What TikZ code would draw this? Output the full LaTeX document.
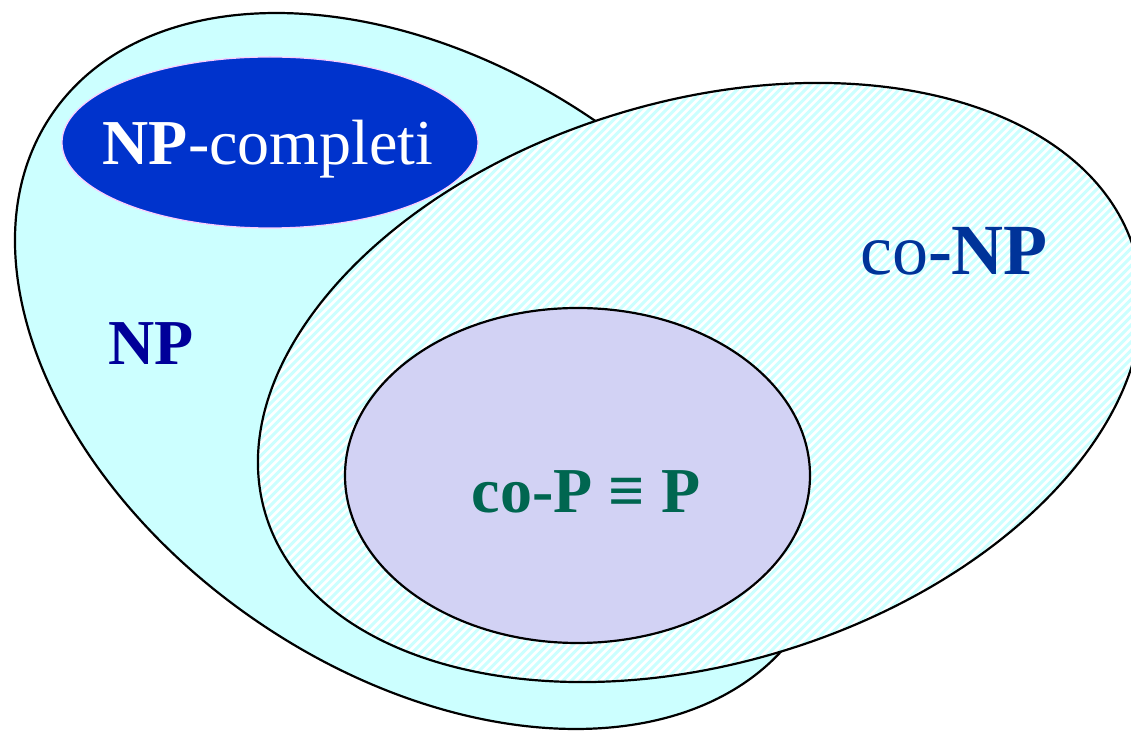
\documentclass[tikz,border=0pt]{standalone}
\usepackage{fontspec}
\setmainfont{Liberation Serif}
\definecolor{npcyan}{HTML}{CCFFFF}
\definecolor{pfill}{HTML}{D2D2F4}
\definecolor{npcblue}{HTML}{0033CC}
\definecolor{npcborder}{HTML}{FFCCFF}
\definecolor{nptext}{HTML}{000099}
\definecolor{conptext}{HTML}{003399}
\definecolor{ptext}{HTML}{006650}
\begin{document}
\begin{tikzpicture}[x=0.5pt,y=-0.5pt,
  setline/.style={draw=black, line width=1.1pt},
  lbl/.style={anchor=base, inner sep=0pt, outer sep=0pt}]
\useasboundingbox (0,0) rectangle (1131,731);
\clip (0,0) rectangle (1131,731);
% NP
\path[setline, fill=npcyan, shift={(426,371)}, rotate=-34.6] (0,0) ellipse [x radius=453.7, y radius=302];
% NP-completi
\path[draw=npcborder, line width=0.6pt, fill=npcblue] (270,142.5) ellipse [x radius=208, y radius=85.5];
% co-NP (hatched)
\begin{scope}
  \clip[shift={(700,382.5)}, rotate=16.9] (0,0) ellipse [x radius=454, y radius=281];
  \fill[white] (0,0) rectangle (1131,731);
  \foreach \c in {300,308.5,...,1900} \draw[npcyan, line width=1.5pt] (\c-800,800) -- (\c,0);
\end{scope}
\path[setline, shift={(700,382.5)}, rotate=16.9] (0,0) ellipse [x radius=454, y radius=281];
% P
\path[setline, fill=pfill] (577.5,475.5) ellipse [x radius=232.5, y radius=167.5];
% labels
\node[lbl, text=white, font=\fontsize{32}{38}\selectfont] (npc) at (268,165) {\textbf{NP}-completi};
\node[lbl, text=nptext, font=\fontsize{32}{38}\selectfont\bfseries] (np) at (151,365) {NP};
\node[lbl, text=conptext, font=\fontsize{36}{43}\selectfont] (conp) at (954,275) {co\textbf{-NP}};
\node[lbl, text=ptext, font=\fontsize{32}{38}\selectfont\bfseries] (p) at (586,513) {co-P ≡ P};
\end{tikzpicture}
\end{document}
